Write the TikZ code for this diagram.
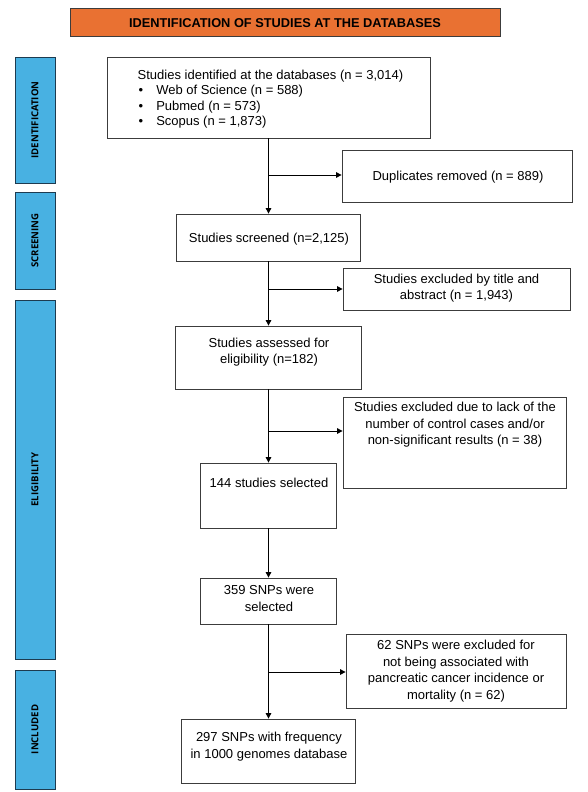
\documentclass[tikz,border=0pt]{standalone}
\usepackage{fontspec}
\setmainfont{Liberation Sans}
\newfontfamily\sidefont{Open Sans}
\usetikzlibrary{arrows.meta}
\definecolor{hdr}{HTML}{E97132}
\definecolor{side}{HTML}{48B1E2}
\definecolor{sideline}{HTML}{1D3B50}
\definecolor{boxline}{HTML}{3C3C3C}
\begin{document}
\begin{tikzpicture}[x=1pt,y=-1pt,
  box/.style={draw=boxline,line width=0.8pt,inner sep=0pt,fill=white},
  txt/.style={font=\fontsize{13}{16.5}\selectfont,align=center,inner sep=0pt},
  sidebar/.style={draw=sideline,line width=0.8pt,fill=side,inner sep=0pt,minimum width=40pt},
  sidetxt/.style={font=\sidefont\bfseries\fontsize{9.6}{11}\selectfont,rotate=90,inner sep=0pt},
  arr/.style={line width=1pt,-{Triangle[length=5.5pt,width=5.5pt]}},
  lin/.style={line width=1pt}]
\useasboundingbox (0,0) rectangle (588,792);
% header
\node[draw=boxline,line width=1pt,fill=hdr,minimum width=430pt,minimum height=28pt,inner sep=0pt,
  font=\bfseries\fontsize{12.8}{14}\selectfont] (hdr) at (285,23) {IDENTIFICATION OF STUDIES AT THE DATABASES};
% side bars
\node[sidebar,minimum height=126pt] (s1) at (35,120) {};
\node[sidetxt] (s1t) at (s1.center) {IDENTIFICATION};
\node[sidebar,minimum height=97pt] (s2) at (35,240.5) {};
\node[sidetxt] (s2t) at (s2.center) {SCREENING};
\node[sidebar,minimum height=359pt] (s3) at (35,479.5) {};
\node[sidetxt] (s3t) at (s3.center) {ELIGIBILITY};
\node[sidebar,minimum height=119pt] (s4) at (35,729.5) {};
\node[sidetxt] (s4t) at (s4.center) {INCLUDED};
% boxes
\node[box,minimum width=323pt,minimum height=81pt] (b1) at (268.5,97.5) {};
\node[txt,align=left,font=\fontsize{13}{15.3}\selectfont] (b1t) at (270.5,99) {Studies identified at the databases (n = 3,014)\\
\hspace*{1pt}\textbullet\hspace{13pt}Web of Science (n = 588)\\
\hspace*{1pt}\textbullet\hspace{13pt}Pubmed (n = 573)\\
\hspace*{1pt}\textbullet\hspace{13pt}Scopus (n = 1,873)};
\node[box,minimum width=230pt,minimum height=52pt] (dup) at (457,176) {};
\node[txt] (dupt) at (458,177) {Duplicates removed (n = 889)};
\node[box,minimum width=184pt,minimum height=47pt] (b2) at (268.5,237.5) {};
\node[txt] (b2t) at (269,239) {Studies screened (n=2,125)};
\node[box,minimum width=227pt,minimum height=42pt] (ex1) at (456.5,289) {};
\node[txt] (ex1t) at (456.5,288) {Studies excluded by title and\\abstract (n = 1,943)};
\node[box,minimum width=186pt,minimum height=63pt] (b3) at (268.5,357.5) {};
\node[txt] (b3t) at (269,352) {Studies assessed for\\eligibility (n=182)};
\node[box,minimum width=223pt,minimum height=91pt] (ex2) at (454.5,442.5) {};
\node[txt] (ex2t) at (455,425) {Studies excluded due to lack of the\\number of control cases and/or\\non-significant results (n = 38)};
\node[box,minimum width=136pt,minimum height=65pt] (b4) at (268.5,495.5) {};
\node[txt] (b4t) at (269,483) {144 studies selected};
\node[box,minimum width=136pt,minimum height=46pt] (b5) at (268.5,601) {};
\node[txt] (b5t) at (269,598.5) {359 SNPs were\\selected};
\node[box,minimum width=220pt,minimum height=74pt] (ex3) at (456,671) {};
\node[txt] (ex3t) at (456,671) {62 SNPs were excluded for\\not being associated with\\pancreatic cancer incidence or\\mortality (n = 62)};
\node[box,minimum width=174pt,minimum height=64pt] (b6) at (268.5,751) {};
\node[txt] (b6t) at (269,746.5) {297 SNPs with frequency\\in 1000 genomes database};
% connectors
\coordinate (j1) at (268.5,175);
\coordinate (j2) at (268.5,289);
\coordinate (j3) at (268.5,431);
\coordinate (j4) at (268.5,672);
\draw[arr] (b1.south) -- (b2.north);
\draw[arr] (j1) -- (dup.west |- j1);
\draw[arr] (b2.south) -- (b3.north);
\draw[arr] (j2) -- (ex1.west |- j2);
\draw[arr] (b3.south) -- (b4.north);
\draw[arr] (j3) -- (ex2.west |- j3);
\draw[arr] (b4.south) -- (b5.north);
\draw[arr] (b5.south) -- (b6.north);
\draw[arr] (j4) -- (ex3.west |- j4);
\end{tikzpicture}
\end{document}
